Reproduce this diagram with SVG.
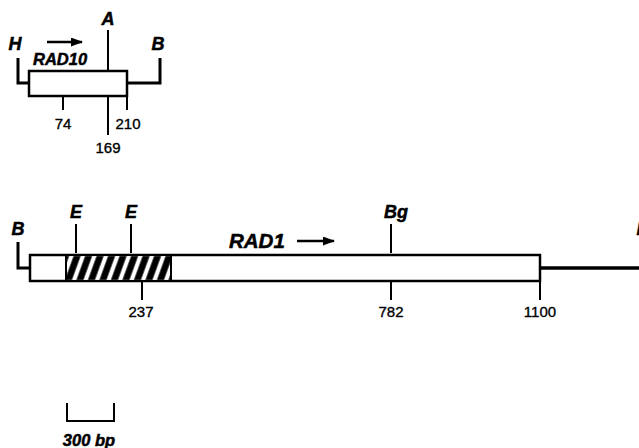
<svg xmlns="http://www.w3.org/2000/svg" width="639" height="448" viewBox="0 0 639 448">
<style>
.lbl{font-family:"Liberation Sans",Arial,sans-serif;font-weight:bold;font-style:italic;fill:#000;stroke:#000;stroke-width:0.5}
.num{font-family:"Liberation Sans",Arial,sans-serif;font-size:15px;fill:#000;stroke:#000;stroke-width:0.35;text-anchor:middle}
.ln{stroke:#000;stroke-width:2;fill:none}
.thick{stroke:#000;stroke-width:3;fill:none}
.box{fill:#fff;stroke:#000;stroke-width:2.5}
</style>
<defs>
<pattern id="hatch" patternUnits="userSpaceOnUse" width="11.5" height="26" patternTransform="translate(66,255) skewX(-20)">
<rect width="11.5" height="26" fill="#000"/>
<rect x="3.5" width="4.5" height="26" fill="#fff"/>
</pattern>
<marker id="ah" markerWidth="12" markerHeight="9" refX="11" refY="4.5" orient="auto" markerUnits="userSpaceOnUse">
<path d="M0,0 L12,4.5 L0,9 Z" fill="#000"/>
</marker>
</defs>
<g id="rad10">
<path class="thick" d="M18,58 V83 H29"/>
<path class="thick" d="M127,83 H160 V58"/>
<rect class="box" x="29" y="71" width="98" height="25"/>
<text class="lbl" x="15" y="50" font-size="18" text-anchor="middle">H</text>
<text class="lbl" x="158" y="50" font-size="18" text-anchor="middle">B</text>
<text class="lbl" x="108" y="25" font-size="18" text-anchor="middle">A</text>
<line class="ln" x1="108" y1="30" x2="108" y2="71"/>
<line x1="47" y1="42" x2="82" y2="42" stroke="#000" stroke-width="2.5" marker-end="url(#ah)"/>
<text class="lbl" x="33" y="65" font-size="16.5">RAD10</text>
<line class="ln" x1="63" y1="96" x2="63" y2="110"/>
<text class="num" x="63" y="129">74</text>
<line class="ln" x1="108" y1="96" x2="108" y2="135"/>
<text class="num" x="108" y="153">169</text>
<line class="ln" x1="127" y1="96" x2="127" y2="110"/>
<text class="num" x="128" y="129">210</text>
</g>
<g id="rad1">
<path class="thick" d="M18,242 V268 H30"/>
<line x1="540" y1="268" x2="639" y2="268" stroke="#000" stroke-width="3.5"/>
<rect class="box" x="30" y="255" width="510" height="26"/>
<rect x="66" y="256.2" width="105" height="23.6" fill="url(#hatch)"/>
<line class="ln" x1="66" y1="255" x2="66" y2="281"/>
<line class="ln" x1="171" y1="255" x2="171" y2="281"/>
<text class="lbl" x="18" y="235" font-size="18" text-anchor="middle">B</text>
<text class="lbl" x="76" y="218" font-size="18" text-anchor="middle">E</text>
<line class="ln" x1="76" y1="224" x2="76" y2="253"/>
<text class="lbl" x="131" y="218" font-size="18" text-anchor="middle">E</text>
<line class="ln" x1="131" y1="224" x2="131" y2="253"/>
<text class="lbl" x="396" y="218" font-size="18" text-anchor="middle">Bg</text>
<line class="ln" x1="391" y1="224" x2="391" y2="253"/>
<text class="lbl" x="229" y="248" font-size="20.5">RAD1</text>
<line x1="297" y1="241" x2="334" y2="241" stroke="#000" stroke-width="2.5" marker-end="url(#ah)"/>
<text class="lbl" x="643" y="235" font-size="18" text-anchor="middle">B</text>
<line class="ln" x1="142" y1="281" x2="142" y2="300"/>
<text class="num" x="141" y="317">237</text>
<line class="ln" x1="391" y1="281" x2="391" y2="300"/>
<text class="num" x="391" y="317">782</text>
<line class="ln" x1="540" y1="281" x2="540" y2="300"/>
<text class="num" x="540" y="317">1100</text>
</g>
<g id="scale">
<path class="ln" d="M67,403 V421 H114 V403"/>
<text class="lbl" x="89" y="446" font-size="16.5" text-anchor="middle">300 bp</text>
</g>
</svg>
